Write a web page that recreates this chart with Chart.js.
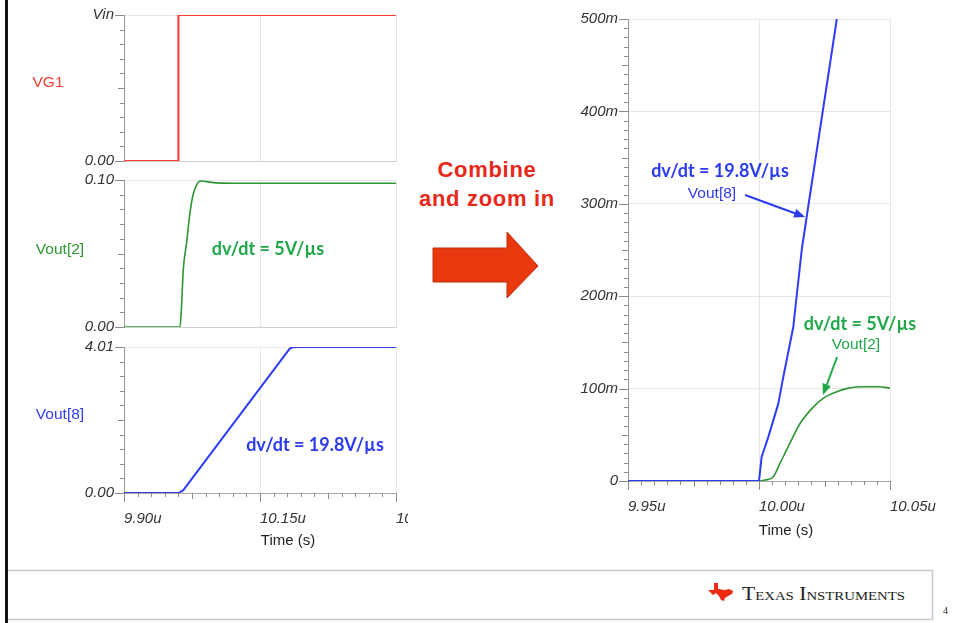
<!DOCTYPE html>
<html>
<head>
<meta charset="utf-8">
<script src="https://cdn.jsdelivr.net/npm/chart.js@4.4.1/dist/chart.umd.min.js"></script>
<style>
  html, body { margin: 0; padding: 0; background: #fff; }
  #page { position: relative; width: 959px; height: 623px; overflow: hidden; font-family: "Liberation Sans", Arial, sans-serif; }
  .box { position: absolute; }
  .lbl { position: absolute; transform: translate(-50%, -50%); white-space: nowrap; line-height: 1; }
  .sig { font-size: 15.5px; }
  .note { font-family: Lato, "Open Sans", sans-serif; font-weight: bold; font-size: 18px; }
  .axt { font-size: 15px; color: #222; }
  .big { font-weight: bold; font-size: 22px; letter-spacing: 0.7px; color: #e8281a; }
</style>
</head>
<body>
<div id="page">
  <svg width="959" height="623" style="position:absolute;left:0;top:0">
    <rect x="5" y="0" width="3" height="623" fill="#111"/>
    <path d="M8 570.5 H932.5 V619.5 H8" fill="none" stroke="#c8c8c8" stroke-width="1.5"/>
    <polygon points="433,248 507,248 507,232 538,266 507,298 507,282 433,282" fill="#e8390e" stroke="#c22e0c" stroke-width="1"/>
    <polygon points="714,583 718,583 718,589 725,590 729,589 733,591 732,594 728,596 725,598 724,601 721,600 719,596 716,593 713,595 710,592 708,590 714,590" fill="#ee2a10"/>
    <text x="742" y="600" textLength="163" lengthAdjust="spacingAndGlyphs" font-family="Liberation Serif" font-size="19" font-variant="small-caps" fill="#222">Texas Instruments</text>
    <text x="943" y="614" font-family="Liberation Serif" font-size="10" fill="#222">4</text>
  </svg>

  <div class="box" style="left:0;top:0;width:408px;height:170px"><canvas id="cVg1"></canvas></div>
  <div class="box" style="left:0;top:170px;width:408px;height:168px"><canvas id="cVout2"></canvas></div>
  <div class="box" style="left:0;top:338px;width:408px;height:222px"><canvas id="cVout8"></canvas></div>
  <div class="box" style="left:560px;top:0;width:399px;height:560px"><canvas id="cZoom"></canvas></div>

  <div class="lbl sig" style="left:48px;top:82px;color:#ff3b2f">VG1</div>
  <div class="lbl sig" style="left:60px;top:249px;color:#2e9632">Vout[2]</div>
  <div class="lbl sig" style="left:60px;top:414px;color:#2f3cf5">Vout[8]</div>
  <div class="lbl note" style="left:268px;top:248px;color:#21a84a">dv/dt = 5V/µs</div>
  <div class="lbl note" style="left:315px;top:444px;color:#2b3cf0">dv/dt = 19.8V/µs</div>
  <div class="lbl axt" style="left:288px;top:539px">Time (s)</div>

  <div class="lbl big" style="left:487px;top:170px">Combine</div>
  <div class="lbl big" style="left:487px;top:199px">and zoom in</div>

  <div class="lbl note" style="left:720px;top:170px;color:#2b3cf0">dv/dt = 19.8V/µs</div>
  <div class="lbl sig" style="left:712px;top:193px;color:#2f3cf5">Vout[8]</div>
  <div class="lbl note" style="left:860px;top:323px;color:#21a84a">dv/dt = 5V/µs</div>
  <div class="lbl sig" style="left:856px;top:344px;color:#21a84a">Vout[2]</div>
  <div class="lbl axt" style="left:786px;top:529px">Time (s)</div>
</div>

<script>
// left panels, time in µs
const vg1Time = [9.90, 10.00, 10.00, 10.40];
const vg1Level = [0, 0, 1, 1]; // 1 = Vin

const vout2Time = [9.90, 10.003, 10.006, 10.009, 10.015, 10.021, 10.027, 10.034, 10.040, 10.052, 10.064, 10.101, 10.40];
const vout2Volts = [0, 0, 0.016, 0.039, 0.057, 0.077, 0.090, 0.097, 0.0993, 0.0989, 0.0982, 0.0978, 0.0978];

const vout8Time = [9.90, 10.001, 10.009, 10.205, 10.211, 10.22, 10.40];
const vout8Volts = [0, 0, 0.08, 3.97, 4.005, 4.01, 4.01];

// zoomed panel
const zoom8Time = [9.95, 10.000, 10.001, 10.0036, 10.0074, 10.0093, 10.0131, 10.0163, 10.0182, 10.0297];
const zoom8Volts = [0, 0, 0.026, 0.048, 0.084, 0.113, 0.167, 0.250, 0.286, 0.500];

const zoom2Time = [9.95, 10.000, 10.0023, 10.0055, 10.0080, 10.0118, 10.0156, 10.0207, 10.0245, 10.0297, 10.0335, 10.0386, 10.0462, 10.05];
const zoom2Volts = [0, 0, 0.001, 0.0047, 0.019, 0.041, 0.062, 0.080, 0.0895, 0.0966, 0.100, 0.102, 0.102, 0.1004];

// tick labels
const leftTimeTicks = [9.90, 10.15, 10.40];
const zoomTimeTicks = [9.95, 10.00, 10.05];
const vg1Ticks = [0, 1];
const vg1TickText = ['0.00', 'Vin'];
const vout2Ticks = [0, 0.1];
const vout2TickText = ['0.00', '0.10'];
const vout8Ticks = [0, 4.01];
const vout8TickText = ['0.00', '4.01'];
const zoomVoltTicks = [0, 0.1, 0.2, 0.3, 0.4, 0.5];
const zoomVoltText = ['0', '100m', '200m', '300m', '400m', '500m'];

// annotation arrows (data units)
const arrow8From = [9.9947, 0.3095], arrow8To = [10.0176, 0.2857];
const arrow2From = [10.0298, 0.1342], arrow2To = [10.0244, 0.0931];

const tickFont = { family: 'Liberation Sans', style: 'italic', size: 15 };

function labelFor(v, vals, texts) {
    const i = vals.findIndex(t => Math.abs(t - v) < 1e-6);
    return i < 0 ? '' : texts[i];
}

function pts(ts, vs) {
    return ts.map((t, i) => ({ x: t, y: vs[i] }));
}

// small scope style tick marks, longer on labelled and half-way ticks
const tickMarks = {
    id: 'tickMarks',
    afterDraw(chart, args, opts) {
        const ctx = chart.ctx;
        ctx.save();
        ctx.strokeStyle = '#8a8a8a';
        ctx.lineWidth = 1;
        ctx.beginPath();
        opts.axes.forEach(id => {
            const s = chart.scales[id];
            s.ticks.forEach((t, i) => {
                const len = t.label ? 9 : (i % 5 === 0 ? 6 : 4);
                const p = Math.round(s.getPixelForValue(t.value)) + 0.5;
                if (s.isHorizontal()) {
                    ctx.moveTo(p, s.top);
                    ctx.lineTo(p, s.top + len);
                } else {
                    ctx.moveTo(s.right - len, p);
                    ctx.lineTo(s.right, p);
                }
            });
        });
        ctx.stroke();
        ctx.restore();
    }
};

const noteArrows = {
    id: 'noteArrows',
    afterDatasetsDraw(chart, args, opts) {
        const { ctx, scales: { x, y } } = chart;
        (opts.list || []).forEach(a => {
            const x0 = x.getPixelForValue(a.from[0]), y0 = y.getPixelForValue(a.from[1]);
            const x1 = x.getPixelForValue(a.to[0]), y1 = y.getPixelForValue(a.to[1]);
            const ang = Math.atan2(y1 - y0, x1 - x0);
            const c = Math.cos(ang), s = Math.sin(ang);
            ctx.save();
            ctx.strokeStyle = a.color;
            ctx.fillStyle = a.color;
            ctx.lineWidth = 2;
            ctx.beginPath();
            ctx.moveTo(x0, y0);
            ctx.lineTo(x1 - 8 * c, y1 - 8 * s);
            ctx.stroke();
            ctx.beginPath();
            ctx.moveTo(x1, y1);
            ctx.lineTo(x1 - 11 * c + 4.5 * s, y1 - 11 * s - 4.5 * c);
            ctx.lineTo(x1 - 11 * c - 4.5 * s, y1 - 11 * s + 4.5 * c);
            ctx.closePath();
            ctx.fill();
            ctx.restore();
        });
    }
};

function gridColor(c) {
    return c.index > 0 && c.tick && c.tick.label ? '#e6e6e6' : 'rgba(0,0,0,0)';
}

function timeAxis(min, max, labelVals, showLabels, h, borderColor) {
    return {
        type: 'linear', min: min, max: max,
        border: { color: borderColor },
        grid: { drawTicks: false, color: gridColor },
        ticks: {
            display: showLabels, count: 21, autoSkip: false, maxRotation: 0, minRotation: 0,
            align: 'start', padding: 17, color: '#333', font: tickFont,
            callback: v => labelFor(v, labelVals, labelVals.map(t => t.toFixed(2) + 'u'))
        },
        afterFit: s => { s.height = h; s.paddingLeft = 0; s.paddingRight = 0; }
    };
}

function voltAxis(max, count, vals, texts, w) {
    return {
        type: 'linear', min: 0, max: max,
        border: { color: '#999' },
        grid: { drawTicks: false, color: gridColor },
        ticks: {
            count: count, autoSkip: false, padding: 10, color: '#333', font: tickFont,
            callback: v => labelFor(v, vals, texts)
        },
        afterFit: s => { s.width = w; s.paddingTop = 0; s.paddingBottom = 0; }
    };
}

function baseOptions(padding, scales, arrows) {
    return {
        responsive: true,
        maintainAspectRatio: false,
        animation: false,
        events: [],
        layout: { padding: padding },
        scales: scales,
        plugins: {
            legend: { display: false },
            tooltip: { enabled: false },
            tickMarks: { axes: ['x', 'y'].filter(id => id === 'y' || scales.x.ticks.display) },
            noteArrows: { list: arrows || [] }
        }
    };
}

function lineSet(data, color, width, smooth) {
    return {
        data: data, borderColor: color, borderWidth: width, pointRadius: 0,
        borderJoinStyle: 'round', fill: false,
        cubicInterpolationMode: smooth ? 'monotone' : 'default', tension: 0
    };
}

new Chart(document.getElementById('cVg1'), {
    type: 'line',
    data: { datasets: [lineSet(pts(vg1Time, vg1Level), '#ff3b2f', 2, false)] },
    options: baseOptions({ left: 0, right: 12, top: 15, bottom: 9 }, {
        x: timeAxis(9.90, 10.40, leftTimeTicks, false, 0, '#cfcfcf'),
        y: voltAxis(1, 11, vg1Ticks, vg1TickText, 124)
    }),
    plugins: [tickMarks, noteArrows]
});

new Chart(document.getElementById('cVout2'), {
    type: 'line',
    data: { datasets: [lineSet(pts(vout2Time, vout2Volts), '#2e9632', 1.6, true)] },
    options: baseOptions({ left: 0, right: 12, top: 10, bottom: 11 }, {
        x: timeAxis(9.90, 10.40, leftTimeTicks, false, 0, '#cfcfcf'),
        y: voltAxis(0.1, 11, vout2Ticks, vout2TickText, 124)
    }),
    plugins: [tickMarks, noteArrows]
});

new Chart(document.getElementById('cVout8'), {
    type: 'line',
    data: { datasets: [lineSet(pts(vout8Time, vout8Volts), '#2f3cf5', 2, false)] },
    options: baseOptions({ left: 0, right: 12, top: 9, bottom: 27 }, {
        x: timeAxis(9.90, 10.40, leftTimeTicks, true, 40, '#a8a8a8'),
        y: voltAxis(4.01, 11, vout8Ticks, vout8TickText, 124)
    }),
    plugins: [tickMarks, noteArrows]
});

new Chart(document.getElementById('cZoom'), {
    type: 'line',
    data: {
        datasets: [
            lineSet(pts(zoom8Time, zoom8Volts), '#2f3cf5', 2, false),
            lineSet(pts(zoom2Time, zoom2Volts), '#2e9632', 1.6, true)
        ]
    },
    options: baseOptions({ left: 0, right: 69, top: 19, bottom: 39 }, {
        x: timeAxis(9.95, 10.05, zoomTimeTicks, true, 40, '#a8a8a8'),
        y: voltAxis(0.5, 51, zoomVoltTicks, zoomVoltText, 68)
    }, [
        { from: arrow8From, to: arrow8To, color: '#2b3cf0' },
        { from: arrow2From, to: arrow2To, color: '#21a84a' }
    ]),
    plugins: [tickMarks, noteArrows]
});
</script>
</body>
</html>
